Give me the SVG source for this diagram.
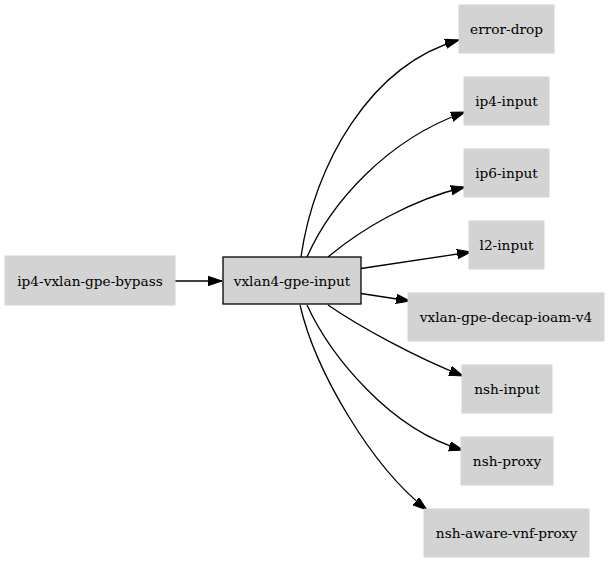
<svg xmlns="http://www.w3.org/2000/svg" width="609" height="563" viewBox="0 0 609 563">
<style>
.n{fill:#d3d3d3;stroke:#d3d3d3;stroke-width:1}
.m{fill:#d3d3d3;stroke:#000;stroke-width:1.3}
text{font-family:"DejaVu Serif","Liberation Serif",serif;font-size:13.7px;text-anchor:middle;fill:#000}
.e{fill:none;stroke:#000;stroke-width:1.3}
</style>
<defs>
<marker id="ah" markerUnits="userSpaceOnUse" markerWidth="15" markerHeight="11" refX="14" refY="5" orient="auto">
<path d="M0,0.3 L14,5 L0,9.7 z" fill="#000" stroke="#000" stroke-width="1"/>
</marker>
</defs>
<rect width="609" height="563" fill="#fff"/>
<g id="edges">
<path class="e" marker-end="url(#ah)" d="M175,281 L222,281"/>
<path class="e" marker-end="url(#ah)" d="M301,257 C314,165 370,65 459,40"/>
<path class="e" marker-end="url(#ah)" d="M307,257 C330,205 385,140 465,112"/>
<path class="e" marker-end="url(#ah)" d="M328,257 C360,230 410,200 465,187"/>
<path class="e" marker-end="url(#ah)" d="M361,268.5 L471,252"/>
<path class="e" marker-end="url(#ah)" d="M361,293.5 L410,301"/>
<path class="e" marker-end="url(#ah)" d="M328,305 C360,327 415,357 463,376"/>
<path class="e" marker-end="url(#ah)" d="M307,305 C330,355 390,430 463,450"/>
<path class="e" marker-end="url(#ah)" d="M300,305 C315,370 370,465 427,510"/>
</g>
<g id="ip4-vxlan-gpe-bypass"><rect class="n" x="5" y="256" width="170" height="49"/><text x="90" y="285.5">ip4-vxlan-gpe-bypass</text></g>
<g id="vxlan4-gpe-input"><rect class="m" x="223" y="257" width="138" height="47"/><text x="292" y="285.5">vxlan4-gpe-input</text></g>
<g id="error-drop"><rect class="n" x="459" y="5" width="95" height="48"/><text x="506.5" y="34">error-drop</text></g>
<g id="ip4-input"><rect class="n" x="464" y="77" width="85" height="48"/><text x="506.5" y="106">ip4-input</text></g>
<g id="ip6-input"><rect class="n" x="464" y="149" width="85" height="48"/><text x="506.5" y="178">ip6-input</text></g>
<g id="l2-input"><rect class="n" x="469" y="221" width="75" height="48"/><text x="506.5" y="250">l2-input</text></g>
<g id="vxlan-gpe-decap-ioam-v4"><rect class="n" x="408" y="293" width="196" height="48"/><text x="506" y="322">vxlan-gpe-decap-ioam-v4</text></g>
<g id="nsh-input"><rect class="n" x="462" y="365" width="90" height="48"/><text x="507" y="394">nsh-input</text></g>
<g id="nsh-proxy"><rect class="n" x="461" y="437" width="92" height="48"/><text x="507" y="466">nsh-proxy</text></g>
<g id="nsh-aware-vnf-proxy"><rect class="n" x="424" y="509" width="165" height="48"/><text x="506.5" y="538">nsh-aware-vnf-proxy</text></g>
</svg>
